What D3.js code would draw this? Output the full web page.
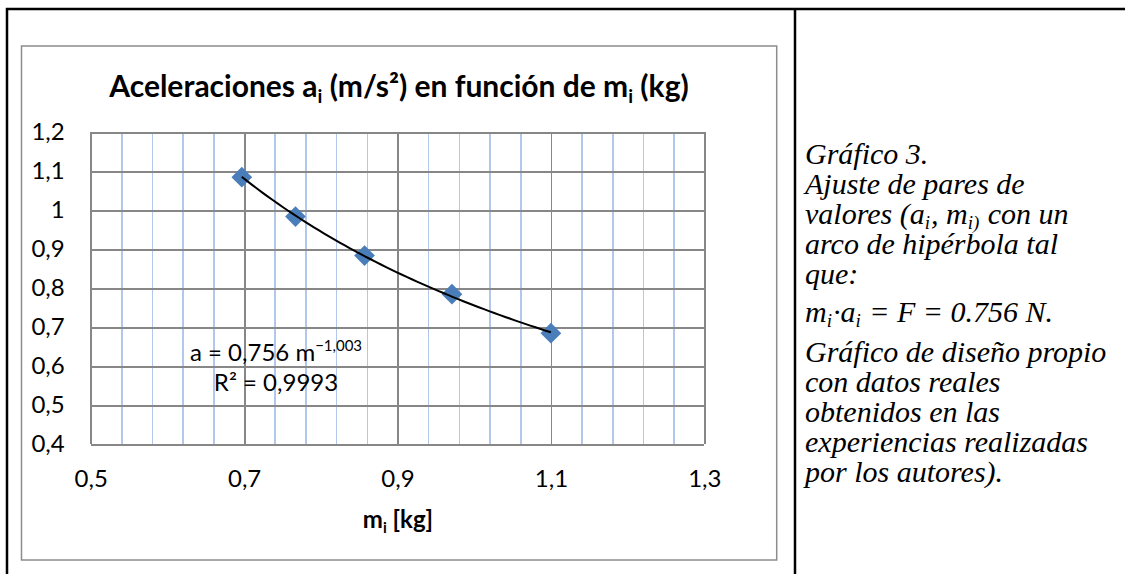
<!DOCTYPE html>
<html>
<head>
<meta charset="utf-8">
<script src="https://cdn.jsdelivr.net/npm/d3@7"></script>
<style>
  body { margin: 0; background: #fff; }
  .tick line { shape-rendering: crispEdges; }
</style>
</head>
<body>
<div id="chart"></div>
<script>
// measured values (m in kg, a in m/s²)
var masses = [0.697, 0.767, 0.857, 0.971, 1.100];
var accels = [1.085, 0.984, 0.884, 0.785, 0.685];

var xTicks = [0.5, 0.7, 0.9, 1.1, 1.3];
var yTicks = [0.4, 0.5, 0.6, 0.7, 0.8, 0.9, 1.0, 1.1, 1.2];

// power trendline shown on the chart: a = 0,756 m^-1,003
var fitCoef = 0.756;
var fitExp = -1.003;
var fitR2 = 0.9993;

var captionLines = [
    [["Gráfico 3.", 0]],
    [["Ajuste de pares de", 0]],
    [["valores (a", 0], ["i", 1], [", m", 0], ["i)", 1], [" con un", 0]],
    [["arco de hipérbola tal", 0]],
    [["que:", 0]],
    [["m", 0], ["i", 1], ["·a", 0], ["i", 1], [" = F = 0.756 N.", 0]],
    [["Gráfico de diseño propio", 0]],
    [["con datos reales", 0]],
    [["obtenidos en las", 0]],
    [["experiencias realizadas", 0]],
    [["por los autores).", 0]]
];

function init(){
    var w = 1125;
    var h = 574;
    var plot = {left: 90.7, right: 704.3, top: 132.3, bottom: 444.3};
    var sans = "Lato, 'Open Sans', sans-serif";

    var svg = d3.select("#chart")
        .append("svg")
        .attr("width", w)
        .attr("height", h)
        .style("display", "block");

    var locale = d3.formatLocale({decimal: ",", thousands: ".", grouping: [3], currency: ["", ""]});
    var fmt = locale.format(".1~f");
    function fmt3(v){ return locale.format(".3f")(v); }

    var xScale = d3.scaleLinear().domain([0.5, 1.3]).range([plot.left, plot.right]);
    var yScale = d3.scaleLinear().domain([0.4, 1.2]).range([plot.bottom, plot.top]);

    // minor gridlines fade out a bit towards the bottom, like the original
    var grad = svg.append("defs").append("linearGradient")
        .attr("id", "minorFade")
        .attr("gradientUnits", "userSpaceOnUse")
        .attr("x1", 0).attr("y1", plot.top)
        .attr("x2", 0).attr("y2", plot.bottom);
    grad.append("stop").attr("offset", 0).attr("stop-color", "#b2c7eb");
    grad.append("stop").attr("offset", 0.7).attr("stop-color", "#b7cbec");
    grad.append("stop").attr("offset", 1).attr("stop-color", "#dfe7f5");

    // table borders of the document
    svg.append("line").attr("x1", 6).attr("y1", 9).attr("x2", w).attr("y2", 9)
        .attr("stroke", "#000").attr("stroke-width", 2.5);
    svg.append("line").attr("x1", 7).attr("y1", 8).attr("x2", 7).attr("y2", h)
        .attr("stroke", "#000").attr("stroke-width", 2.5);
    svg.append("line").attr("x1", 795).attr("y1", 8).attr("x2", 795).attr("y2", h)
        .attr("stroke", "#000").attr("stroke-width", 2.5);

    // chart area frame
    svg.append("rect")
        .attr("x", 21.5).attr("y", 46)
        .attr("width", 776.7 - 21.5).attr("height", 560 - 46)
        .attr("fill", "#fff")
        .attr("stroke", "#8c8c8c")
        .attr("stroke-width", 1.5);

    // minor vertical gridlines every 0.04
    var minorX = d3.range(0, 21).map(function(i){ return +(0.5 + i * 0.04).toFixed(2); })
        .filter(function(v){ return xTicks.indexOf(v) < 0; });
    var minorAxis = d3.axisBottom(xScale)
        .tickValues(minorX)
        .tickSize(-(plot.bottom - plot.top))
        .tickFormat("");
    svg.append("g")
        .attr("class", "minor grid")
        .attr("transform", "translate(0," + plot.bottom + ")")
        .call(minorAxis)
        .call(function(g){
            g.select(".domain").remove();
            g.selectAll("line").attr("stroke", "url(#minorFade)").attr("stroke-width", 1.6);
        });

    // y axis with horizontal gridlines
    var yAxis = d3.axisLeft(yScale)
        .tickValues(yTicks)
        .tickSize(-(plot.right - plot.left))
        .tickPadding(26)
        .tickFormat(fmt);
    svg.append("g")
        .attr("class", "y axis")
        .attr("transform", "translate(" + plot.left + ",0)")
        .call(yAxis)
        .call(function(g){
            g.select(".domain").remove();
            g.selectAll("line").attr("stroke", "#878787").attr("stroke-width", 1.8);
            g.selectAll("text").attr("font-family", sans).attr("font-size", "24px").attr("fill", "#000");
        });

    // x axis with major vertical gridlines
    var xAxis = d3.axisBottom(xScale)
        .tickValues(xTicks)
        .tickSize(-(plot.bottom - plot.top))
        .tickPadding(26)
        .tickFormat(fmt);
    svg.append("g")
        .attr("class", "x axis")
        .attr("transform", "translate(0," + plot.bottom + ")")
        .call(xAxis)
        .call(function(g){
            g.select(".domain").remove();
            g.selectAll("line").attr("stroke", "#878787").attr("stroke-width", 1.8);
            g.selectAll("text").attr("font-family", sans).attr("font-size", "24px").attr("fill", "#000");
        });

    // trendline from the fitted power law, over the range of the data
    var mExtent = d3.extent(masses);
    var fitPts = d3.range(0, 61).map(function(i){
        var m = mExtent[0] + (mExtent[1] - mExtent[0]) * i / 60;
        return {m: m, a: fitCoef * Math.pow(m, fitExp)};
    });
    var line = d3.line()
        .x(function(d){ return xScale(d.m); })
        .y(function(d){ return yScale(d.a); })
        .curve(d3.curveBasis);

    // markers
    var dataset = masses.map(function(m, i){ return {m: m, a: accels[i]}; });
    svg.append("g")
        .attr("class", "points")
        .selectAll("path")
        .data(dataset)
        .enter()
        .append("path")
        .attr("d", d3.symbol().type(d3.symbolSquare).size(215))
        .attr("transform", function(d){
            return "translate(" + xScale(d.m) + "," + yScale(d.a) + ") rotate(45)";
        })
        .attr("fill", "#4a7ebb");

    svg.append("path")
        .datum(fitPts)
        .attr("class", "line")
        .attr("d", line)
        .attr("fill", "none")
        .attr("stroke", "#000")
        .attr("stroke-width", 2);

    // trendline label
    var eq = svg.append("text")
        .attr("x", 276)
        .attr("y", 361)
        .attr("text-anchor", "middle")
        .attr("font-family", sans)
        .attr("font-size", "24px");
    eq.append("tspan").text("a = " + fmt3(fitCoef) + " m");
    eq.append("tspan").attr("dy", -10).attr("font-size", "15px").text(fmt3(fitExp));

    svg.append("text")
        .attr("x", 276)
        .attr("y", 391)
        .attr("text-anchor", "middle")
        .attr("font-family", sans)
        .attr("font-size", "24px")
        .text("R² = " + locale.format(".4f")(fitR2));

    // chart title
    var title = svg.append("text")
        .attr("x", 399)
        .attr("y", 97)
        .attr("text-anchor", "middle")
        .attr("font-family", sans)
        .attr("font-weight", "bold")
        .attr("font-size", "30px");
    title.append("tspan").text("Aceleraciones a");
    title.append("tspan").attr("dy", 6).attr("font-size", "19px").text("i");
    title.append("tspan").attr("dy", -6).text(" (m/s²) en función de m");
    title.append("tspan").attr("dy", 6).attr("font-size", "19px").text("i");
    title.append("tspan").attr("dy", -6).text(" (kg)");

    // x axis title
    var xt = svg.append("text")
        .attr("x", 398)
        .attr("y", 528)
        .attr("text-anchor", "middle")
        .attr("font-family", sans)
        .attr("font-weight", "bold")
        .attr("font-size", "24px");
    xt.append("tspan").text("m");
    xt.append("tspan").attr("dy", 5).attr("font-size", "15px").text("i");
    xt.append("tspan").attr("dy", -5).text(" [kg]");

    // caption in the right column
    var cap = svg.append("g")
        .attr("font-family", "'Liberation Serif', 'Times New Roman', serif")
        .attr("font-style", "italic")
        .attr("font-size", "30px")
        .attr("fill", "#000");
    captionLines.forEach(function(parts, i){
        // the formula line sits a little lower than the regular line pitch
        var y = 164 + i * 30 + (i >= 5 ? 8 : 0) + (i >= 6 ? 9.7 : 0);
        var t = cap.append("text").attr("x", 805).attr("y", y);
        var shifted = 0;
        parts.forEach(function(p){
            var sp = t.append("tspan").text(p[0]);
            if (p[1] && !shifted){ sp.attr("dy", 5).attr("font-size", "19px"); shifted = 1; }
            else if (p[1]) { sp.attr("font-size", "19px"); }
            else if (shifted){ sp.attr("dy", -5).attr("dx", 1); shifted = 0; }
        });
    });
}
window.onload = init;
</script>
</body>
</html>
